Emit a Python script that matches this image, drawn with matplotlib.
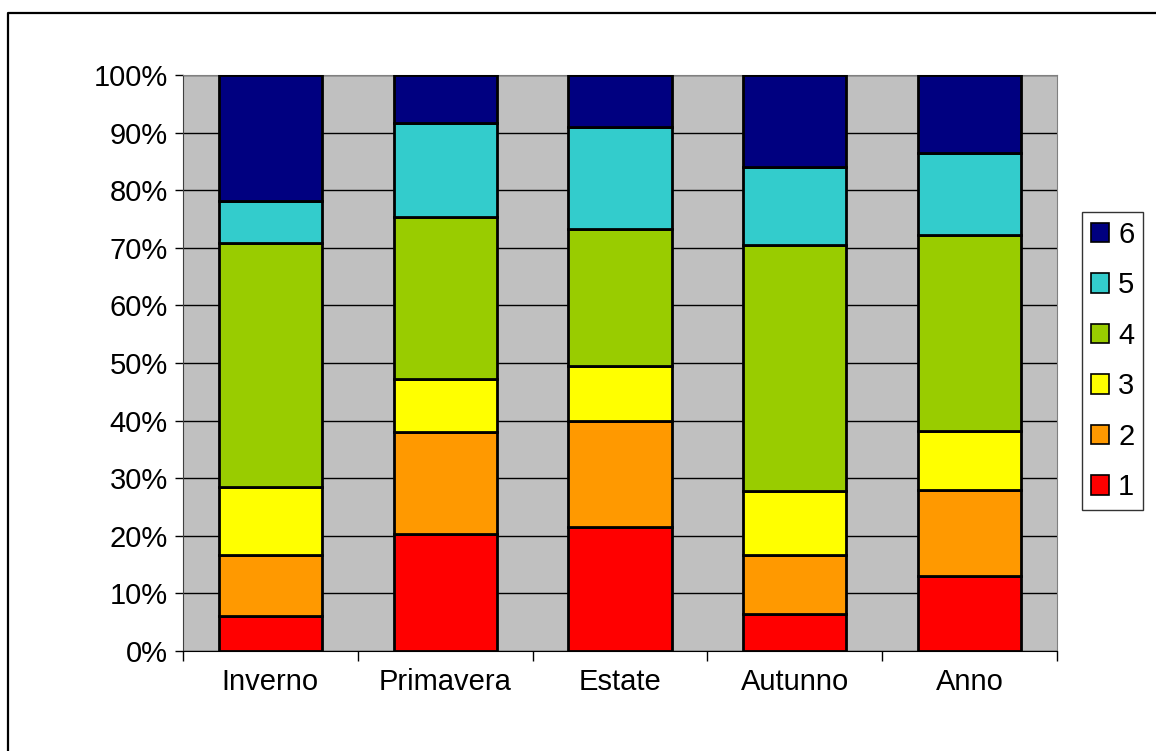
import matplotlib
matplotlib.use("Agg")
import matplotlib.pyplot as plt
import numpy as np
from matplotlib.lines import Line2D
from matplotlib.patches import Rectangle
from matplotlib.ticker import FuncFormatter, MultipleLocator

plt.rcParams['font.family'] = ['Liberation Sans', 'DejaVu Sans']

seasons = ["Inverno", "Primavera", "Estate", "Autunno", "Anno"]
classes = ["1", "2", "3", "4", "5", "6"]

# share (%) of each class per season, bottom to top
class_1 = [6.0, 20.3, 21.6, 6.4, 13.1]
class_2 = [10.7, 17.7, 18.4, 10.2, 14.9]
class_3 = [11.8, 9.3, 9.5, 11.1, 10.2]
class_4 = [42.3, 28.0, 23.7, 42.7, 34.1]
class_5 = [7.3, 16.4, 17.7, 13.6, 14.1]
class_6 = [21.9, 8.3, 9.1, 16.0, 13.6]

colors = ["#FF0000", "#FF9900", "#FFFF00", "#99CC00", "#33CCCC", "#000080"]

series = [class_1, class_2, class_3, class_4, class_5, class_6]

W, H = 1156, 751
fig = plt.figure(figsize=(W / 100, H / 100), dpi=100)
ax = fig.add_axes([183 / W, 1 - 651 / H, 874 / W, 576 / H])

# chart frame (only top and left edges fall inside the image)
fig.lines.append(Line2D([8 / W, 8 / W, 1.0], [0.0, 1 - 13 / H, 1 - 13 / H],
                        transform=fig.transFigure, color="black",
                        linewidth=1.6))

ax.set_facecolor("#C0C0C0")
x = np.arange(len(seasons))
bottom = np.zeros(len(seasons))
for vals, col in zip(series, colors):
    ax.bar(x, vals, bottom=bottom, width=0.59, color=col,
           edgecolor="black", linewidth=2, zorder=3)
    bottom += np.array(vals)

ax.set_xlim(-0.5, len(seasons) - 0.5)
ax.set_ylim(0, 100)
ax.yaxis.set_major_locator(MultipleLocator(10))
ax.yaxis.set_major_formatter(FuncFormatter(lambda v, p: f"{v:.0f}%"))
ax.grid(axis="y", color="black", linewidth=1, zorder=1)
ax.set_axisbelow(True)

ax.set_xticks(x)
ax.set_xticklabels(seasons)
ax.set_xticks(np.arange(-0.5, len(seasons)), minor=True)
ax.tick_params(axis="x", which="major", length=0, pad=12, labelsize=21)
ax.tick_params(axis="x", which="minor", length=7, width=1, color="black")
ax.tick_params(axis="y", length=6, width=1, color="black", labelsize=21, pad=5)

for side in ["top", "right"]:
    ax.spines[side].set_color("#808080")
ax.spines["left"].set_color("#404040")
ax.spines["bottom"].set_color("black")

handles = [Rectangle((0, 0), 1, 1, facecolor=c, edgecolor="black", linewidth=1.2)
           for c in colors][::-1]
leg = fig.legend(handles, classes[::-1], loc="center",
                 bbox_to_anchor=(1112.5 / W, 1 - 361 / H),
                 frameon=True, fancybox=False, fontsize=21,
                 handlelength=0.65, handleheight=0.65, handletextpad=0.3,
                 labelspacing=0.77, borderpad=0.3, borderaxespad=0)
leg.get_frame().set_edgecolor("black")
leg.get_frame().set_linewidth(1)

fig.savefig("out.png", dpi=100)
